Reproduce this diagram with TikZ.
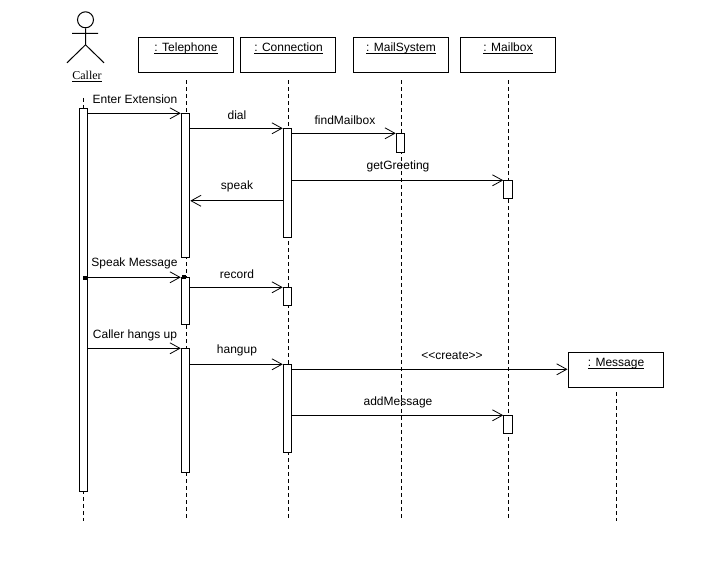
\documentclass[tikz,border=0pt]{standalone}
\usepackage{fontspec}
\setmainfont{Liberation Sans}
\newfontfamily\actorfont{Liberation Serif}
\usetikzlibrary{arrows.meta}
\newcommand{\objtitle}[1]{$\underline{\smash{\hbox{#1}}}$}
\tikzset{
  obj/.style={draw,fill=white,line width=1pt,minimum width=95pt,minimum height=35pt,inner sep=0pt},
  objname/.style={font=\fontsize{12}{14}\selectfont,inner sep=0pt,anchor=base},
  act/.style={draw,fill=white,line width=1pt,minimum width=8.5pt,inner sep=0pt},
  life/.style={line width=1pt,dash pattern=on 4pt off 3pt},
  msg/.style={line width=1pt,-{Straight Barb[length=10pt,width=11pt,line width=0.8pt]}},
  lbl/.style={font=\fontsize{12}{14}\selectfont,inner sep=0pt},
  stick/.style={line width=1pt},
  mark square/.style={fill=black,inner sep=0pt,minimum size=4pt}
}
\begin{document}
\begin{tikzpicture}[x=1pt,y=-1pt]
\useasboundingbox (0,-0.8) rectangle (710,568.2);

% object boxes
\node[obj] (tel) at (185.5,54.5) {};
\node[obj] (con) at (288,54.5) {};
\node[obj] (mls) at (401,54.5) {};
\node[obj] (mbx) at (507.5,54.5) {};
\node[obj] (msgobj) at (615.5,369.5) {};
\node[objname] (telname) at (186,51) {\objtitle{: Telephone}};
\node[objname] (conname) at (288.5,51) {\objtitle{: Connection}};
\node[objname] (mlsname) at (401,51) {\objtitle{: MailSystem}};
\node[objname] (mbxname) at (508,51) {\objtitle{: Mailbox}};
\node[objname] (msgname) at (616,366) {\objtitle{: Message}};

% actor
\node[draw,circle,line width=1pt,minimum size=16pt,inner sep=0pt] (head) at (85.5,19) {};
\coordinate (hip) at (85.5,44);
\coordinate (armL) at (72,32.5);
\coordinate (armR) at (98,32.5);
\coordinate (footL) at (67,62);
\coordinate (footR) at (104,62);
\draw[stick] (head.south) -- (hip) (armL) -- (armR) (footL) -- (hip) -- (footR);
\node[font=\actorfont\fontsize{12}{14}\selectfont,inner sep=0pt] (caller) at (87,75.5) {\underline{Caller}};

% lifelines
\coordinate (endA) at (83.5,520);
\coordinate (endT) at (186,520);
\coordinate (endC) at (288.5,520);
\coordinate (endS) at (401.5,520);
\coordinate (endB) at (508,520);
\coordinate (endM) at (616.5,520);
\coordinate (startA) at (83.5,97);
\draw[life] (startA) -- (endA);
\draw[life] (tel.south -| endT) ++(0,7) -- (endT);
\draw[life] (con.south -| endC) ++(0,7) -- (endC);
\draw[life] (mls.south -| endS) ++(0,7) -- (endS);
\draw[life] (mbx.south -| endB) ++(0,7) -- (endB);
\draw[life] (msgobj.south -| endM) ++(0,4) -- (endM);

% activation bars
\node[act,minimum height=383pt] (a1) at (83.5,299.5) {};
\node[act,minimum height=144pt] (t1) at (185.5,185) {};
\node[act,minimum height=47pt] (t2) at (185.5,300.5) {};
\node[act,minimum height=124pt] (t3) at (185.5,410) {};
\node[act,minimum height=109pt] (c1) at (287.5,182.5) {};
\node[act,minimum height=18pt] (c2) at (287.5,296) {};
\node[act,minimum height=88pt] (c3) at (287.5,408) {};
\node[act,minimum height=19pt] (s1) at (400.5,142.5) {};
\node[act,minimum height=18pt] (b1) at (508,189) {};
\node[act,minimum height=18pt] (b2) at (508,424) {};

% focus markers
\node[mark square] (mk1) at (85,277) {};
\node[mark square] (mk2) at (184,276) {};

% messages
\draw[msg] (a1.east |- 0,112.5) -- (t1.west |- 0,112.5);
\draw[msg] (t1.east |- 0,127.5) -- (c1.west |- 0,127.5);
\draw[msg] (c1.east |- 0,132.5) -- (s1.west |- 0,132.5);
\draw[msg] (c1.east |- 0,179.5) -- (b1.west |- 0,179.5);
\draw[msg] (c1.west |- 0,200) -- (t1.east |- 0,200);
\draw[msg] (a1.east |- 0,276.5) -- (t2.west |- 0,276.5);
\draw[msg] (t2.east |- 0,286.5) -- (c2.west |- 0,286.5);
\draw[msg] (a1.east |- 0,347.5) -- (t3.west |- 0,347.5);
\draw[msg] (t3.east |- 0,363.5) -- (c3.west |- 0,363.5);
\draw[msg] (c3.east |- 0,368.5) -- (msgobj.west |- 0,368.5);
\draw[msg] (c3.east |- 0,414.5) -- (b2.west |- 0,414.5);

% message labels
\node[lbl] (l1) at (135,98.5) {Enter Extension};
\node[lbl] (l2) at (237,114.5) {dial};
\node[lbl] (l3) at (345,119.5) {findMailbox};
\node[lbl] (l4) at (398,165.5) {getGreeting};
\node[lbl] (l5) at (237,185.5) {speak};
\node[lbl] (l6) at (134.5,262.5) {Speak Message};
\node[lbl] (l7) at (237,273.5) {record};
\node[lbl] (l8) at (135,334.5) {Caller hangs up};
\node[lbl] (l9) at (237,349.5) {hangup};
\node[lbl] (l10) at (452,354.5) {{<}{<}create{>}{>}};
\node[lbl] (l11) at (398,401.5) {addMessage};
\end{tikzpicture}
\end{document}
